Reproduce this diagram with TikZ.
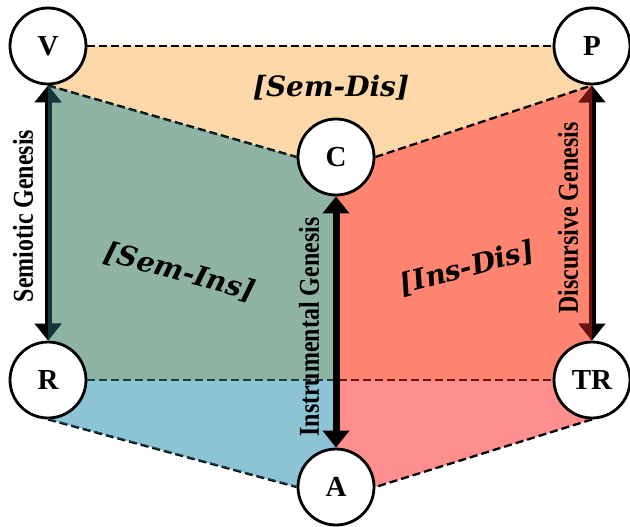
\documentclass[tikz,border=0pt]{standalone}
\usepackage{fontspec}
\setmainfont{Liberation Serif}
\newfontfamily\regfont{DejaVu Serif}
\usetikzlibrary{arrows.meta,backgrounds,calc}
\definecolor{peach}{HTML}{FDD8A8}
\definecolor{semins}{HTML}{8FB4A3}
\definecolor{semblue}{HTML}{8DC4D4}
\definecolor{insdis}{HTML}{FF8570}
\definecolor{dispink}{HTML}{FF8F8F}
\definecolor{darkteal}{HTML}{12363C}
\definecolor{darkblue}{HTML}{1C4656}
\definecolor{darkred}{HTML}{6E1410}
\newcommand\pathPeach{(V.center) -- (P.center) -- (P.south) -- (C.east) -- (C.west) -- (V.south) -- cycle}
\newcommand\pathGreen{(V.south) -- (C.west) -- (C.center) -- (C.center |- R.center) -- (R.center) -- cycle}
\newcommand\pathBlue{(R.center) -- (C.center |- R.center) -- (A.center) -- (A.west) -- (R.south) -- cycle}
\newcommand\pathRed{(C.center) -- (C.east) -- (P.south) -- (TR.center) -- (C.center |- TR.center) -- cycle}
\newcommand\pathPink{(C.center |- TR.center) -- (TR.center) -- (TR.south) -- (A.east) -- (A.center) -- cycle}
\newcommand\tallgen[1]{\scalebox{1}[1.2]{#1}}
\begin{document}
\begin{tikzpicture}[x=1pt,y=-1pt,
  vert/.style={circle,draw=black,line width=2.8pt,fill=white,minimum size=76pt,inner sep=0pt,
    font=\bfseries\fontsize{29}{29}\selectfont},
  dashedge/.style={line width=2.3pt,dash pattern=on 8pt off 4pt},
  genesis/.style={line width=7pt,>={Triangle[width=26pt,length=17pt]},<->},
  reglabel/.style={font=\regfont\bfseries\itshape\fontsize{28}{28}\selectfont,inner sep=0pt},
  genlabel/.style={font=\bfseries\fontsize{24}{24}\selectfont,inner sep=0pt,rotate=90}]
\useasboundingbox (0,0) rectangle (630,527);
% vertices
\node[vert] (V) at (48,46) {V};
\node[vert] (P) at (592,46) {P};
\node[vert] (C) at (336,157) {C};
\node[vert] (R) at (48,380) {R};
\node[vert] (TR) at (592,380) {TR};
\node[vert] (A) at (336,487) {A};
% regions
\begin{pgfonlayer}{background}
\fill[peach] \pathPeach;
\fill[semins] \pathGreen;
\fill[semblue] \pathBlue;
\fill[insdis] \pathRed;
\fill[dispink] \pathPink;
\end{pgfonlayer}
% dashed edges
\draw[dashedge] (V) -- (P);
\draw[dashedge] (V.south) -- (C.west);
\draw[dashedge] (C.east) -- (P.south);
\draw[dashedge] (R) -- (TR);
\draw[dashedge] (R.south) -- (A.west);
\draw[dashedge] (TR.south) -- (A.east);
% geneses
\draw[genesis] (V) -- (R);
\draw[genesis] (P) -- (TR);
% tinted overlays
\begin{scope}
\clip \pathGreen;
\draw[genesis,darkteal] (V) -- (R);
\draw[dashedge,darkteal] (V.south) -- (C.west);
\draw[dashedge,darkteal] (R) -- (TR);
\end{scope}
\begin{scope}
\clip \pathBlue;
\draw[dashedge,darkblue] (R) -- (TR);
\draw[dashedge,darkblue] (R.south) -- (A.west);
\end{scope}
\begin{scope}
\clip \pathRed;
\draw[genesis,darkred] (P) -- (TR);
\draw[dashedge,darkred] (R) -- (TR);
\end{scope}
\begin{scope}
\clip \pathPink;
\draw[dashedge,darkred] (R) -- (TR);
\end{scope}
\draw[genesis] (C) -- (A);
% labels
\node[reglabel] (lsd) at (331,88) {[Sem-Dis]};
\node[reglabel,rotate=-15] (lsi) at (180,272) {[Sem-Ins]};
\node[reglabel,rotate=15] (lid) at (467,268) {[Ins-Dis]};
\node[genlabel] (gs) at (23,216) {\tallgen{Semiotic Genesis}};
\node[genlabel] (gi) at (309,327) {\tallgen{Instrumental Genesis}};
\node[genlabel] (gd) at (568,218) {\tallgen{Discursive Genesis}};
\end{tikzpicture}
\end{document}
